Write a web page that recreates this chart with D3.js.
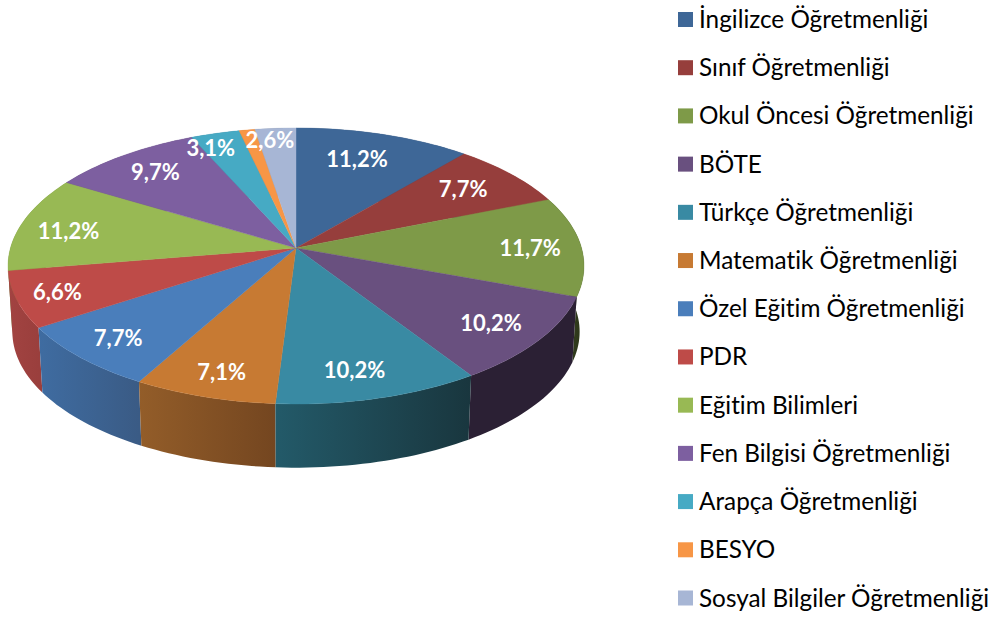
<!DOCTYPE html>
<html>
<head>
<meta charset="utf-8">
<script src="https://cdn.jsdelivr.net/npm/d3@7"></script>
<style>
  body { margin: 0; background: #fff; }
  svg { display: block; }
  text { font-family: Lato, "Open Sans", sans-serif; font-variant-ligatures: none; }
</style>
</head>
<body>
<svg id="pie_svg" width="997" height="617"></svg>
<script>
// values, BESYO has no label in the original
const categories = ["İngilizce Öğretmenliği", "Sınıf Öğretmenliği", "Okul Öncesi Öğretmenliği", "BÖTE",
  "Türkçe Öğretmenliği", "Matematik Öğretmenliği", "Özel Eğitim Öğretmenliği", "PDR", "Eğitim Bilimleri",
  "Fen Bilgisi Öğretmenliği", "Arapça Öğretmenliği", "BESYO", "Sosyal Bilgiler Öğretmenliği"];
const values = [11.2, 7.7, 11.7, 10.2, 10.2, 7.1, 7.7, 6.6, 11.2, 9.7, 3.1, 1.0, 2.6];
const valueLabels = ["11,2%", "7,7%", "11,7%", "10,2%", "10,2%", "7,1%", "7,7%", "6,6%", "11,2%", "9,7%", "3,1%", "", "2,6%"];

// colours
const topColors = ["#3e6797", "#963e3c", "#7e9a48", "#69507f", "#398aa3", "#c77a33", "#4a7ebb",
  "#be4b48", "#98b954", "#7d5fa0", "#46aac4", "#f79646", "#a7b6d5"];
const sideLeft = ["#2c4a6d", "#9f3f3d", "#3a4722", "#2b2034", "#235a69", "#935d29", "#3f6ca1",
  "#a24341", "#6f8a3c", "#5a4473", "#33798d", "#b26d33", "#7a849a"];
const sideRight = ["#2c4a6d", "#9f3f3d", "#2c361a", "#2b2034", "#19363e", "#744620", "#3a5b85",
  "#9a3f3d", "#6f8a3c", "#5a4473", "#33798d", "#b26d33", "#7a849a"];

// where each label sits inside its slice
const labelRadius = [0.75, 0.77, 0.82, 0.82, 0.83, 0.85, 0.84, 0.86, 0.82, 0.80, 0.88, 0, 0.89];
const labelTurn = [-2, -0.5, 1, 0.5, 2, -0.5, 0, 0, -1.8, 0, -3.5, 0, -1.9];

const svg = d3.select("#pie_svg");

// the disc is seen in perspective, so it's a projected circle and not a plain ellipse
const k = 0.1304;
function project(angle, r, base) {
  const u = r * Math.sin(angle), v = -r * Math.cos(angle);
  const s = base ? 0.985 : 1;
  const cy = base ? 314 : 248;
  return [296 + 285.5 * s * u / (1 - k * v), cy + 135.65 * s * v / (1 - k * v)];
}

const slices = d3.pie().sort(null).value(d => d)(values)
  .map((d, i) => ({ ...d, i: i }));

function arcAngles(d) {
  const n = Math.max(4, Math.ceil((d.endAngle - d.startAngle) * 40));
  return d3.range(n + 1).map(j => d.startAngle + (d.endAngle - d.startAngle) * j / n);
}

const line = d3.line();
const defs = svg.append("defs");

// one horizontal gradient per wall
slices.forEach(d => {
  const xs = arcAngles(d).map(a => project(a, 1, false)[0]);
  const g = defs.append("linearGradient")
    .attr("id", "side" + d.i)
    .attr("gradientUnits", "userSpaceOnUse")
    .attr("x1", d3.min(xs)).attr("x2", d3.max(xs))
    .attr("y1", 0).attr("y2", 0);
  g.append("stop").attr("offset", 0).attr("stop-color", sideLeft[d.i]);
  g.append("stop").attr("offset", 1).attr("stop-color", sideRight[d.i]);
});

// walls first, back ones before the front ones
const depth = d => -Math.cos((d.startAngle + d.endAngle) / 2);
svg.append("g")
  .selectAll("path")
  .data(slices.slice().sort((a, b) => depth(a) - depth(b)))
  .join("path")
    .attr("fill", d => `url(#side${d.i})`)
    .attr("d", d => {
      const angles = arcAngles(d);
      const pts = angles.map(a => project(a, 1, false))
        .concat(angles.slice().reverse().map(a => project(a, 1, true)));
      return line(pts) + "Z";
    });

// top of the disc
svg.append("g")
  .selectAll("path")
  .data(slices)
  .join("path")
    .attr("fill", d => topColors[d.i])
    .attr("stroke", d => topColors[d.i])
    .attr("stroke-width", 0.4)
    .attr("d", d => line([[296, 248]].concat(arcAngles(d).map(a => project(a, 1, false)))) + "Z");

// value labels
const labelPos = d => project((d.startAngle + d.endAngle) / 2 + labelTurn[d.i] * Math.PI / 180, labelRadius[d.i], false);
svg.append("g")
  .selectAll("text")
  .data(slices.filter(d => valueLabels[d.i] !== ""))
  .join("text")
    .attr("x", d => labelPos(d)[0])
    .attr("y", d => labelPos(d)[1])
    .attr("dy", "0.35em")
    .attr("text-anchor", "middle")
    .attr("fill", "#fff")
    .attr("font-size", 22)
    .attr("font-weight", 700)
    .text(d => valueLabels[d.i]);

// legend
const legendY = d3.scalePoint().domain(categories).range([19.5, 598]);
const legend = svg.append("g")
  .selectAll("g")
  .data(categories)
  .join("g")
    .attr("transform", d => `translate(678,${legendY(d)})`);
legend.append("rect")
  .attr("y", -7.5)
  .attr("width", 15)
  .attr("height", 15)
  .attr("fill", (d, i) => topColors[i]);
legend.append("text")
  .attr("x", 21)
  .attr("dy", "0.35em")
  .attr("font-size", 24.3)
  .attr("fill", "#000")
  .text(d => d);
</script>
</body>
</html>
